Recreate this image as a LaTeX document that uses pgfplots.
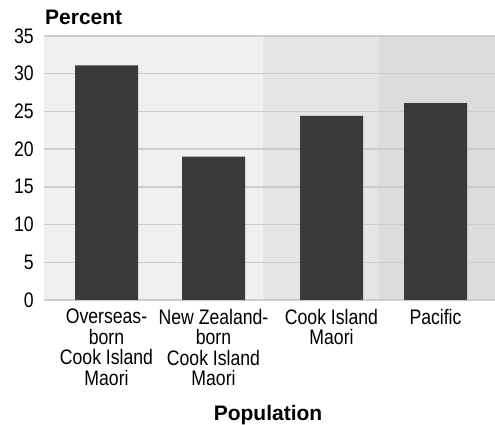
\documentclass[border=0pt]{standalone}
\usepackage{pgfplots}
\pgfplotsset{compat=1.18}
\usepackage{fontspec}
\setmainfont{Liberation Sans}
\newfontfamily\ticksfont[FakeStretch=0.84]{Liberation Sans}
\definecolor{bgA}{HTML}{F0F0F0}
\definecolor{bgB}{HTML}{E5E5E5}
\definecolor{bgC}{HTML}{DCDCDC}
\definecolor{gridc}{HTML}{CDCDCD}
\definecolor{barc}{HTML}{3A3A3A}
\begin{document}
\begin{tikzpicture}
\begin{axis}[
  set layers=standard,
  at={(44bp,125bp)}, anchor=south west,
  scale only axis, width=451bp, height=264bp,
  xmin=44, xmax=495, ymin=0, ymax=35,
  axis line style={draw=none},
  tick style={draw=none}, major tick length=0pt,
  ymajorgrids, grid style={gridc, line width=1.3bp},
  ytick={0,5,10,15,20,25,30,35},
  yticklabels={0,5,10,15,20,25,30,35},
  yticklabel style={font=\ticksfont\fontsize{21bp}{20.5bp}\selectfont, anchor=east, inner sep=0pt, xshift=-10bp},
  xtick={106.5,213.5,331.5,435.5},
  xticklabels={{Overseas-\\born\\Cook Island\\Maori},{New Zealand-\\born\\Cook Island\\Maori},{Cook Island\\Maori},{Pacific}},
  xticklabel style={font=\ticksfont\fontsize{21bp}{20.5bp}\selectfont, align=center, anchor=north, inner sep=0pt, yshift=-9bp},
]
\begin{pgfonlayer}{axis background}
\fill[bgA] (axis cs:44,0) rectangle (axis cs:263,35);
\fill[bgB] (axis cs:263,0) rectangle (axis cs:378,35);
\fill[bgC] (axis cs:378,0) rectangle (axis cs:495,35);
\end{pgfonlayer}
\addplot[ybar, bar width=63bp, fill=barc, draw=none] coordinates {(106.5,31.1) (213.5,19.0) (331.5,24.4) (435.5,26.1)};
\end{axis}
\node[anchor=base west, inner sep=0pt, font=\bfseries\fontsize{21bp}{22bp}\selectfont] at (45bp,400bp) {Percent};
\node[anchor=base, inner sep=0pt, font=\bfseries\fontsize{21bp}{22bp}\selectfont] at (268bp,5bp) {Population};
\pgfresetboundingbox
\useasboundingbox (0,0) rectangle (495bp,425bp);
\end{tikzpicture}
\end{document}
